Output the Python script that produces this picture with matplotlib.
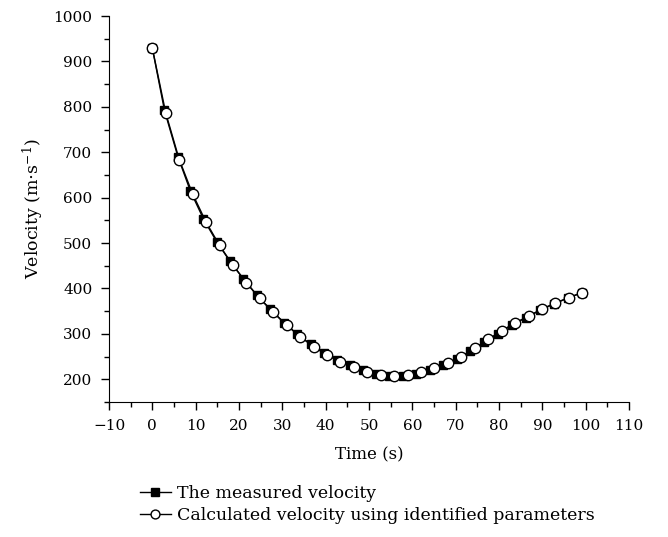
import matplotlib
matplotlib.use("Agg")
import matplotlib.pyplot as plt
from matplotlib.ticker import MultipleLocator

plt.rcParams["font.family"] = ["DejaVu Serif"]
plt.rcParams["mathtext.fontset"] = "dejavuserif"

# measured velocity (filled squares)
measured_time = [0.0, 2.8, 5.9, 8.8, 11.8, 14.9, 17.9, 21.0, 24.1, 27.2, 30.3,
                 33.4, 36.5, 39.6, 42.5, 45.5, 48.5, 51.6, 54.7, 57.8, 60.8,
                 64.0, 67.1, 70.3, 73.4, 76.6, 79.8, 83.0, 86.3, 89.5, 92.7,
                 95.9, 99.2]
measured_velocity = [929, 792, 690, 614, 553, 502, 460, 421, 385, 354, 325,
                     300, 277, 258, 243, 231, 221, 212, 208, 207, 212,
                     220, 231, 245, 262, 282, 300, 320, 336, 352, 366,
                     379, 391]

# calculated velocity using identified parameters (open circles)
calc_time = [0.0, 3.1, 6.2, 9.3, 12.4, 15.5, 18.6, 21.7, 24.8, 27.9, 31.0,
             34.1, 37.2, 40.3, 43.4, 46.5, 49.6, 52.7, 55.8, 58.9, 62.0,
             65.1, 68.2, 71.3, 74.4, 77.5, 80.6, 83.7, 86.8, 89.9, 93.0,
             96.1, 99.2]
calc_velocity = [929, 786, 684, 608, 546, 495, 451, 413, 378, 348, 319,
                 294, 272, 253, 239, 228, 217, 209, 208, 209, 217,
                 224, 236, 250, 268, 288, 307, 324, 339, 355, 368,
                 380, 391]

fig = plt.figure(figsize=(6.68, 5.37), dpi=100)
ax = fig.add_axes([0.1632, 0.2514, 0.7785, 0.7188])

ax.plot(measured_time, measured_velocity, color="black", lw=1.0,
        marker="s", ms=6, mfc="black", mec="black",
        label="The measured velocity")
ax.plot(calc_time, calc_velocity, color="black", lw=1.0,
        marker="o", ms=7.5, mfc="white", mec="black", mew=1.0,
        label="Calculated velocity using identified parameters")

ax.set_xlim(-10, 110)
ax.set_ylim(150, 1000)
ax.xaxis.set_major_locator(MultipleLocator(10))
ax.xaxis.set_minor_locator(MultipleLocator(5))
ax.yaxis.set_minor_locator(MultipleLocator(50))
ax.set_yticks(range(200, 1001, 100))

for side in ("top", "right"):
    ax.spines[side].set_visible(False)
ax.tick_params(which="major", direction="out", length=6, width=1,
               labelsize=11, pad=6)
ax.tick_params(which="minor", direction="out", length=3.5, width=1)

ax.set_xlabel("Time (s)", fontsize=12, labelpad=10)
ax.set_ylabel("Velocity (m$\\cdot$s$^{-1}$)", fontsize=12.5, labelpad=5)

fig.legend(loc="upper left", bbox_to_anchor=(0.196, 0.113), frameon=False,
           fontsize=12.5, handlelength=1.8, labelspacing=0.28, borderpad=0,
           handletextpad=0.35, markerscale=0.85)

fig.savefig("out.png", dpi=100)
